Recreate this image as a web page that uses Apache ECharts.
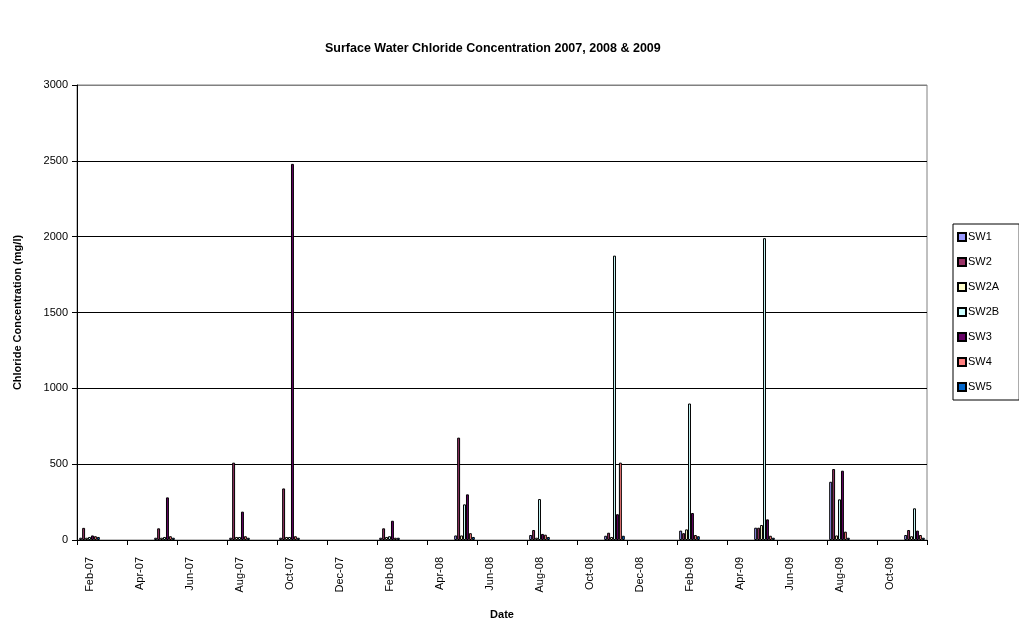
<!DOCTYPE html>
<html><head><meta charset="utf-8">
<script src="https://cdn.jsdelivr.net/npm/echarts@6/dist/echarts.min.js"></script>
<style>html,body{margin:0;padding:0;background:#fff}#c{width:1019px;height:621px}</style>
</head><body><div id="c"></div>
<script>
var months = ['Feb-07','Mar-07','Apr-07','May-07','Jun-07','Jul-07','Aug-07','Sep-07','Oct-07','Nov-07','Dec-07','Jan-08',
  'Feb-08','Mar-08','Apr-08','May-08','Jun-08','Jul-08','Aug-08','Sep-08','Oct-08','Nov-08','Dec-08','Jan-09',
  'Feb-09','Mar-09','Apr-09','May-09','Jun-09','Jul-09','Aug-09','Sep-09','Oct-09','Nov-09'];
var sampleMonths = ['Feb-07','May-07','Aug-07','Oct-07','Feb-08','May-08','Aug-08','Nov-08','Feb-09','May-09','Aug-09','Nov-09'];
var SW1  = [15, 15, 15, 15, 15, 30, 33, 28, 62, 81, 384, 33];
var SW2  = [80, 77, 510, 340, 77, 675, 66, 48, 45, 81, 468, 66];
var SW2A = [15, 15, 20, 20, 20, 30, 15, 20, 70, 99, 30, 25];
var SW2B = [20, 20, 20, 20, 25, 235, 270, 1875, 900, 1990, 268, 209];
var SW3  = [30, 281, 187, 2480, 127, 301, 40, 170, 178, 136, 457, 62];
var SW4  = [25, 25, 25, 25, 15, 45, 35, 510, 33, 28, 55, 33];
var SW5  = [20, 15, 15, 15, 15, 20, 20, 28, 25, 15, 15, 15];
var seriesNames = ['SW1','SW2','SW2A','SW2B','SW3','SW4','SW5'];
var seriesValues = [SW1, SW2, SW2A, SW2B, SW3, SW4, SW5];
var colors = ['#9999FF','#993366','#FFFFCC','#CCFFFF','#660066','#FF8080','#0066CC'];

function expand(vals){
  return months.map(function(m){
    var i = sampleMonths.indexOf(m);
    return i >= 0 ? vals[i] : null;
  });
}
var font = '"Liberation Sans", Arial, sans-serif';
var chart = echarts.init(document.getElementById('c'), null, {renderer:'canvas'});
chart.setOption({
  animation: false,
  backgroundColor: '#fff',
  title: {
    text: 'Surface Water Chloride Concentration 2007, 2008 & 2009',
    left: 320, top: 37,
    textStyle: {fontFamily: font, fontSize: 12.5, fontWeight: 'bold', color: '#000'}
  },
  grid: {left: 77, right: 92, top: 85, bottom: 81, outerBoundsMode: 'none', containLabel: false,
    show: true, borderColor: '#808080', borderWidth: 1, backgroundColor: '#fff'},
  legend: {
    orient: 'vertical', left: 953, top: 224,
    itemWidth: 8, itemHeight: 8, itemGap: 13, icon: 'rect',
    padding: [7, 20, 7, 4],
    borderColor: '#000', borderWidth: 1, backgroundColor: '#fff',
    textStyle: {fontFamily: font, fontSize: 11, color: '#000', lineHeight: 12, padding: [0,0,0,-3]},
    data: seriesNames
  },
  xAxis: {
    type: 'category', data: months, boundaryGap: true,
    name: 'Date', nameLocation: 'middle', nameGap: 69,
    nameTextStyle: {fontFamily: font, fontSize: 11, fontWeight: 'bold', color: '#000'},
    axisLine: {lineStyle: {color: '#000', width: 1}},
    axisTick: {show: true, interval: 1, length: 5, lineStyle: {color: '#000'}},
    axisLabel: {interval: 1, rotate: 90, margin: 17, fontFamily: font, fontSize: 11, color: '#000'},
    splitLine: {show: false}
  },
  yAxis: {
    type: 'value', min: 0, max: 3000, interval: 500,
    name: 'Chloride Concentration (mg/l)', nameLocation: 'middle', nameGap: 54,
    nameTextStyle: {fontFamily: font, fontSize: 11, fontWeight: 'bold', color: '#000'},
    axisLine: {show: true, lineStyle: {color: '#000', width: 1}},
    axisTick: {show: true, length: 5, lineStyle: {color: '#000'}},
    axisLabel: {fontFamily: font, fontSize: 11, color: '#000', margin: 9, formatter: function(v){ return String(v); }},
    splitLine: {show: true, lineStyle: {color: ['#000','#000','#000','#000','#000','#000','#808080'], width: 1}}
  },
  series: seriesNames.map(function(n, i){
    return {
      name: n, type: 'bar', data: expand(seriesValues[i]),
      barGap: 0, barCategoryGap: '17.6%',
      itemStyle: {color: colors[i], borderColor: '#000', borderWidth: 1}
    };
  })
});
</script>
</body></html>
